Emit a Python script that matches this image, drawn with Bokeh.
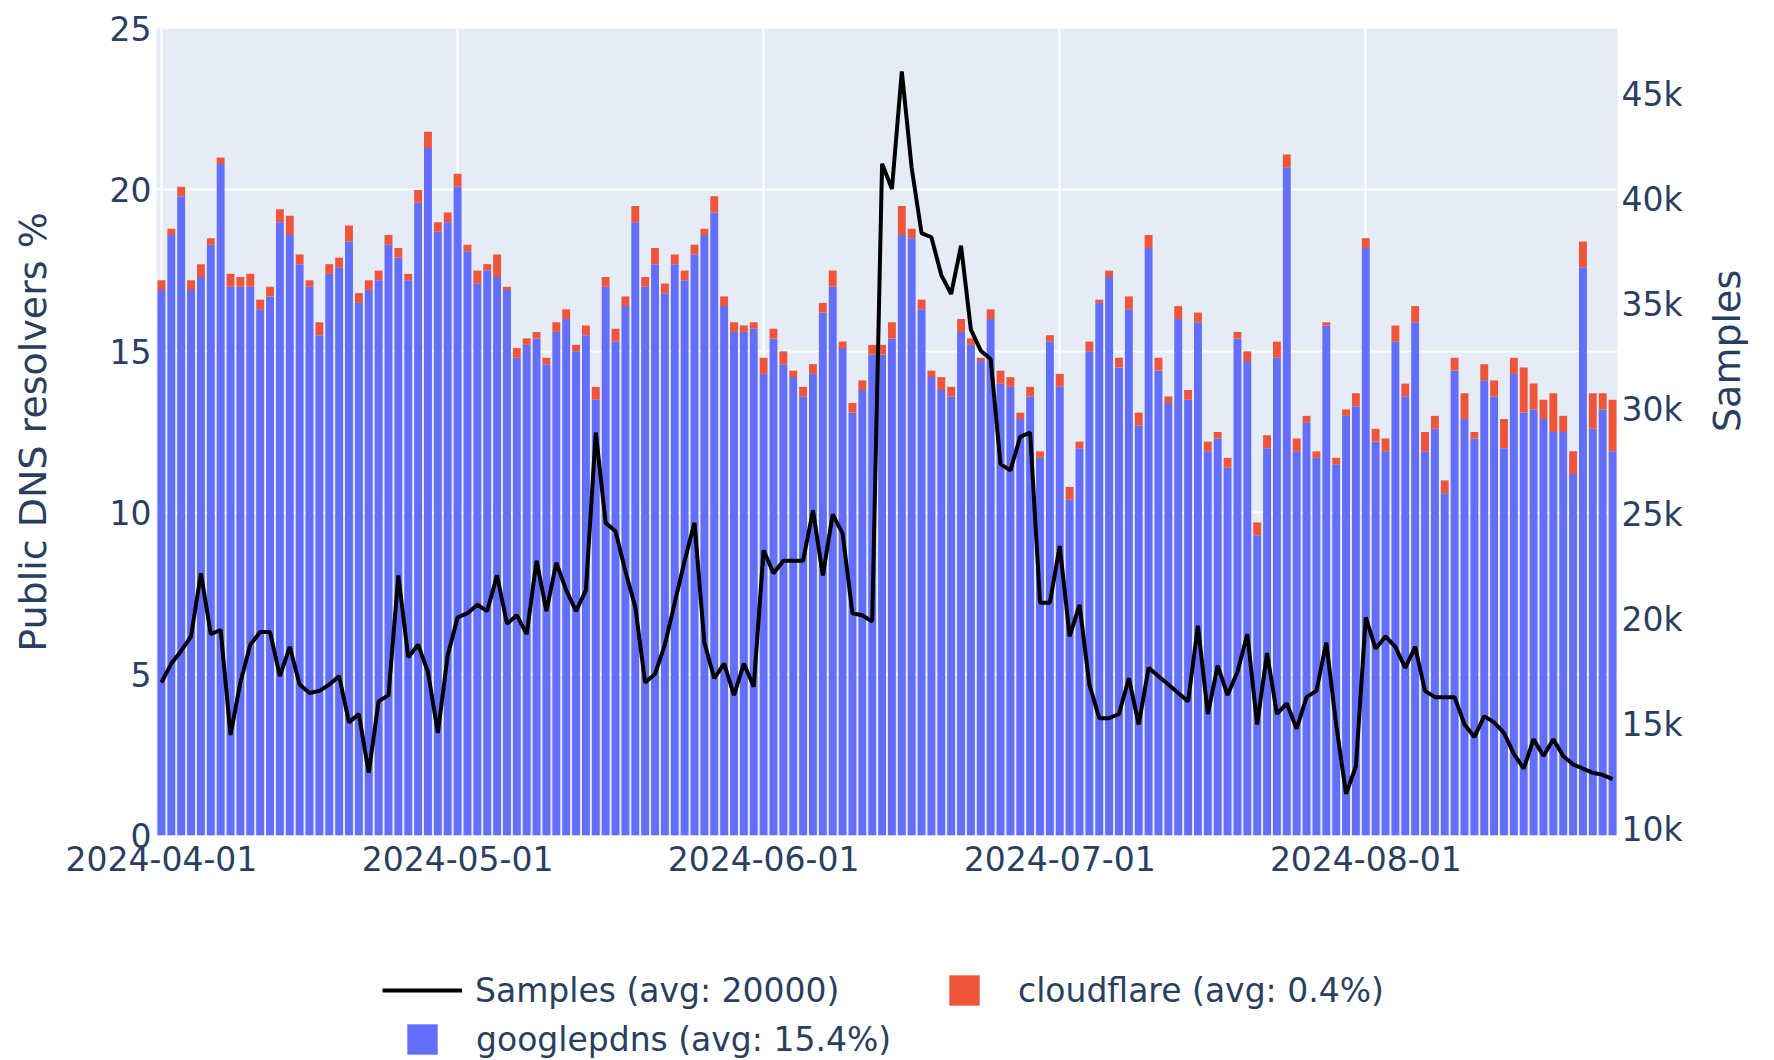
import math
import pandas as pd
from bokeh.plotting import figure
from bokeh.layouts import column
from bokeh.models import (Range1d, LinearAxis, FixedTicker, NumeralTickFormatter,
                          DatetimeTickFormatter, Legend, LegendItem, ColumnDataSource)
from bokeh.embed import file_html
from bokeh.resources import INLINE

# ---------------- data ----------------
start_date = "2024-04-01"

googlepdns = [
    # April
    16.9, 18.6, 19.8, 16.9, 17.3, 18.3, 20.8, 17.0, 17.0, 17.0, 16.3, 16.7, 19.0, 18.6, 17.7,
    17.0, 15.5, 17.4, 17.6, 18.4, 16.5, 16.9, 17.2, 18.3, 17.9, 17.2, 19.6, 21.3, 18.7, 19.0,
    # May
    20.1, 18.1, 17.1, 17.5, 17.3, 16.9, 14.8, 15.2, 15.4, 14.6, 15.6, 16.0, 15.0, 15.5, 13.5,
    17.0, 15.3, 16.4, 19.0, 17.0, 17.7, 16.8, 17.7, 17.2, 18.0, 18.6, 19.3, 16.4, 15.6, 15.6,
    15.7,
    # June
    14.3, 15.4, 14.6, 14.2, 13.6, 14.3, 16.2, 17.0, 15.1, 13.1, 13.8, 14.9, 14.9, 15.4, 18.6,
    18.5, 16.3, 14.2, 13.8, 13.6, 15.6, 15.2, 14.7, 16.0, 14.0, 13.9, 12.9, 13.6, 11.7, 15.3,
    # July
    13.9, 10.4, 12.0, 15.0, 16.5, 17.3, 14.5, 16.3, 12.7, 18.2, 14.4, 13.4, 16.0, 13.5, 15.9,
    11.9, 12.3, 11.4, 15.4, 14.7, 9.3, 12.0, 14.8, 20.7, 11.9, 12.8, 11.7, 15.8, 11.5, 13.0,
    13.3,
    # August
    18.2, 12.2, 11.9, 15.3, 13.6, 15.9, 11.9, 12.6, 10.6, 14.4, 12.9, 12.3, 14.1, 13.6, 12.0,
    14.3, 13.1, 13.2, 12.9, 12.5, 12.5, 11.2, 17.6, 12.6, 13.2, 11.9,
]

cloudflare = [
    # April
    0.3, 0.2, 0.3, 0.3, 0.4, 0.2, 0.2, 0.4, 0.3, 0.4, 0.3, 0.3, 0.4, 0.6, 0.3,
    0.2, 0.4, 0.3, 0.3, 0.5, 0.3, 0.3, 0.3, 0.3, 0.3, 0.2, 0.4, 0.5, 0.3, 0.3,
    # May
    0.4, 0.2, 0.4, 0.2, 0.7, 0.1, 0.3, 0.2, 0.2, 0.2, 0.3, 0.3, 0.2, 0.3, 0.4,
    0.3, 0.4, 0.3, 0.5, 0.3, 0.5, 0.3, 0.3, 0.3, 0.3, 0.2, 0.5, 0.3, 0.3, 0.2,
    0.2,
    # June
    0.5, 0.3, 0.4, 0.2, 0.3, 0.3, 0.3, 0.5, 0.2, 0.3, 0.3, 0.3, 0.3, 0.5, 0.9,
    0.3, 0.3, 0.2, 0.4, 0.3, 0.4, 0.2, 0.1, 0.3, 0.4, 0.3, 0.2, 0.3, 0.2, 0.2,
    # July
    0.4, 0.4, 0.2, 0.3, 0.1, 0.2, 0.3, 0.4, 0.4, 0.4, 0.4, 0.2, 0.4, 0.3, 0.3,
    0.3, 0.2, 0.3, 0.2, 0.3, 0.4, 0.4, 0.5, 0.4, 0.4, 0.2, 0.2, 0.1, 0.2, 0.2,
    0.4,
    # August
    0.3, 0.4, 0.4, 0.5, 0.4, 0.5, 0.6, 0.4, 0.4, 0.4, 0.8, 0.2, 0.5, 0.5, 0.9,
    0.5, 1.4, 0.8, 0.6, 1.2, 0.5, 0.7, 0.8, 1.1, 0.5, 1.6,
]

samples = [
    # April
    17000, 17900, 18500, 19200, 22200, 19300, 19500, 14500, 17000, 18800, 19400, 19400, 17300, 18700, 16900,
    16500, 16600, 16900, 17300, 15100, 15500, 12700, 16100, 16400, 22100, 18200, 18800, 17500, 14600, 18300,
    # May
    20100, 20300, 20700, 20400, 22100, 19800, 20200, 19300, 22800, 20400, 22700, 21400, 20400, 21400, 28900,
    24600, 24200, 22300, 20600, 17000, 17400, 18800, 20800, 22800, 24600, 18900, 17200, 17900, 16400, 17900,
    16800,
    # June
    23300, 22200, 22800, 22800, 22800, 25200, 22100, 25000, 24100, 20300, 20200, 19900, 41700, 40500, 46100,
    41500, 38400, 38200, 36400, 35500, 37800, 33800, 32800, 32400, 27400, 27100, 28700, 28900, 20800, 20800,
    # July
    23500, 19200, 20700, 16900, 15300, 15300, 15500, 17200, 15000, 17700, 17300, 16900, 16500, 16100, 19700,
    15500, 17800, 16400, 17500, 19300, 15000, 18400, 15500, 16000, 14800, 16300, 16600, 18900, 15000, 11700,
    13000,
    # August
    20100, 18600, 19200, 18700, 17700, 18700, 16600, 16300, 16300, 16300, 15000, 14400, 15400, 15100, 14600,
    13600, 12900, 14300, 13500, 14300, 13500, 13100, 12900, 12700, 12600, 12400,
]

tick_dates = ["2024-04-01", "2024-05-01", "2024-06-01", "2024-07-01", "2024-08-01"]
left_ticks = [0, 5, 10, 15, 20, 25]
right_ticks = [10000, 15000, 20000, 25000, 30000, 35000, 40000, 45000]

label_samples = "Samples (avg: 20000)"
label_cloudflare = "cloudflare (avg: 0.4%)"
label_google = "googlepdns (avg: 15.4%)"

# ---------------- build ----------------
dates = pd.date_range(start_date, periods=len(googlepdns), freq="D")
g_top = [g + c for g, c in zip(googlepdns, cloudflare)]
src = ColumnDataSource(dict(x=dates, g=googlepdns, c=cloudflare, top=g_top, s=samples))

DAY = 86400000
FONT = "DejaVu Sans"
TXT = "#2a3f5f"
BLUE = "#636EFA"
RED = "#EF553B"
LINE_W = 4
BL, BR = 156, 157   # left / right borders of the plot frame

x0 = dates[0] - pd.Timedelta(hours=12)
x1 = dates[-1] + pd.Timedelta(hours=12)

p = figure(width=1774, height=880, x_axis_type="datetime",
           x_range=Range1d(x0, x1), y_range=Range1d(0, 25),
           output_backend="svg", toolbar_location=None,
           min_border_left=BL, min_border_right=BR,
           min_border_top=28, min_border_bottom=45)
p.background_fill_color = "#E5ECF6"
p.border_fill_color = "white"
p.outline_line_color = None

p.extra_y_ranges = {"samples": Range1d(9714, 48140)}

p.vbar(x="x", top="g", bottom=0, width=0.8 * DAY, source=src,
       fill_color=BLUE, line_color=None)
p.vbar(x="x", top="top", bottom="g", width=0.8 * DAY, source=src,
       fill_color=RED, line_color=None)
p.line(x="x", y="s", source=src, y_range_name="samples",
       line_color="black", line_width=LINE_W)

# grid
p.xgrid.grid_line_color = "white"
p.ygrid.grid_line_color = "white"
p.xgrid.grid_line_width = 2
p.ygrid.grid_line_width = 2

# x axis
tick_ms = [pd.Timestamp(d).value // 10**6 for d in tick_dates]
xa = p.xaxis[0]
xa.ticker = FixedTicker(ticks=tick_ms)
fmt = "%Y-%m-%d"
xa.formatter = DatetimeTickFormatter(days=fmt, months=fmt, years=fmt, hours=fmt,
                                     minutes=fmt, seconds=fmt, milliseconds=fmt,
                                     microseconds=fmt, minsec=fmt, hourmin=fmt)
p.xgrid.ticker = xa.ticker

# left axis
ya = p.yaxis[0]
ya.ticker = FixedTicker(ticks=left_ticks)
ya.axis_label = "Public DNS resolvers %"

# right axis
ra = LinearAxis(y_range_name="samples", ticker=FixedTicker(ticks=right_ticks),
                formatter=NumeralTickFormatter(format="0a"), axis_label="Samples")
p.add_layout(ra, "right")
try:
    ra.axis_label_orientation = math.pi / 2
except Exception:
    pass

for ax in (xa, ya, ra):
    ax.axis_line_color = None
    ax.major_tick_line_color = None
    ax.minor_tick_line_color = None
    ax.major_tick_out = 0
    ax.minor_tick_out = 0
    ax.major_label_text_font = FONT
    ax.major_label_text_font_size = "33px"
    ax.major_label_text_color = TXT
    ax.axis_label_text_font = FONT
    ax.axis_label_text_font_size = "38px"
    ax.axis_label_text_font_style = "normal"
    ax.axis_label_text_color = TXT

xa.major_label_standoff = 10
ya.major_label_standoff = 5
ya.axis_label_standoff = 52
ra.major_label_standoff = 4
ra.axis_label_standoff = 41

# ---------------- legend strip under the plot ----------------
LH = 180
lf = figure(width=1774, height=LH, x_range=Range1d(0, 10), y_range=Range1d(0, 10),
            output_backend="svg", toolbar_location=None,
            x_axis_location=None, y_axis_location=None, min_border=0,
            min_border_left=BL, min_border_right=BR)
lf.grid.visible = False
lf.outline_line_color = None
lf.background_fill_color = "white"
lf.border_fill_color = "white"

# legend-only renderers: one point each, outside the visible range
dl = lf.line(x=[-100, -90], y=[-100, -100], line_color="black", line_width=LINE_W)
dc = lf.vbar(x=[-100], top=[-100], width=1, fill_color=RED, line_color=None)
dg = lf.vbar(x=[-100], top=[-100], width=1, fill_color=BLUE, line_color=None)

def mk_legend(label, rend, page_x, y, gw, gh, standoff):
    lg = Legend(items=[LegendItem(label=label, renderers=[rend])], location=(page_x - BL, y),
                orientation="horizontal", glyph_width=gw, glyph_height=gh,
                label_height=40, label_standoff=standoff, padding=0, margin=0,
                spacing=0, background_fill_alpha=0, border_line_color=None,
                label_text_font=FONT, label_text_font_size="33px",
                label_text_color=TXT)
    lf.add_layout(lg, "center")
    return lg

mk_legend(label_samples, dl, 382, 50, 80, 40, 13)
mk_legend(label_cloudflare, dc, 945, 50, 38, 38, 35)
mk_legend(label_google, dg, 403, 1, 38, 38, 35)

layout = column(p, lf, spacing=0)
open("out.html", "w").write(file_html(layout, INLINE))
